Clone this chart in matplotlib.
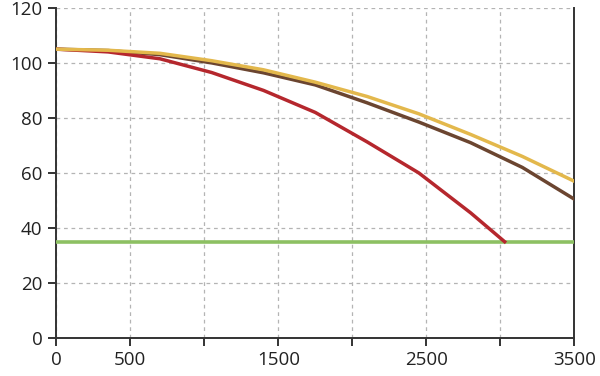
import matplotlib
matplotlib.use("Agg")
import matplotlib.pyplot as plt

plt.rcParams["font.family"] = ["Open Sans", "DejaVu Sans"]

x = [0, 350, 700, 1050, 1400, 1750, 2100, 2450, 2800, 3150, 3500]
yellow = [105, 104.6, 103.5, 100.8, 97.5, 93, 87.8, 81.5, 74, 66, 57]
brown = [105, 104.5, 103, 100, 96.4, 92, 85.5, 78.5, 71, 62, 50.5]
red_x = [0, 350, 700, 1050, 1400, 1750, 2100, 2450, 2800, 3030]
red = [105, 104, 101.5, 96.5, 90, 82, 71.3, 60, 45.5, 35]
limit_x = [0, 3500]
limit = [35, 35]

xticks = [0, 500, 1000, 1500, 2000, 2500, 3000, 3500]
xlabels = ["0", "500", "", "1500", "", "2500", "", "3500"]
yticks = [0, 20, 40, 60, 80, 100, 120]

fig = plt.figure(figsize=(6, 3.76), dpi=100)
ax = fig.add_axes([0.094, 0.101, 0.863, 0.878])

ax.plot(limit_x, limit, color="#8DC063", lw=2.6, solid_capstyle="butt", zorder=3)
ax.plot(x, brown, color="#6B4530", lw=2.5, zorder=4)
ax.plot(x, yellow, color="#E3B84C", lw=2.5, zorder=5)
ax.plot(red_x, red, color="#B5272D", lw=2.5, zorder=4)

ax.set_xlim(0, 3500)
ax.set_ylim(0, 120)
ax.set_xticks(xticks)
ax.set_xticklabels(xlabels)
ax.set_yticks(yticks)
ax.grid(True, color="#b4b4b4", linestyle=(0, (3, 3)), lw=0.9)
ax.set_axisbelow(True)

ax.spines["top"].set_visible(False)
for s in ["left", "bottom", "right"]:
    ax.spines[s].set_color("#333333")
    ax.spines[s].set_linewidth(1.4)
ax.tick_params(axis="both", colors="#333333", width=1.4, length=6,
               labelsize=13.5, labelcolor="#222222")
ax.tick_params(axis="y", pad=4)
ax.tick_params(axis="x", pad=3)

fig.savefig("out.png", dpi=100)
